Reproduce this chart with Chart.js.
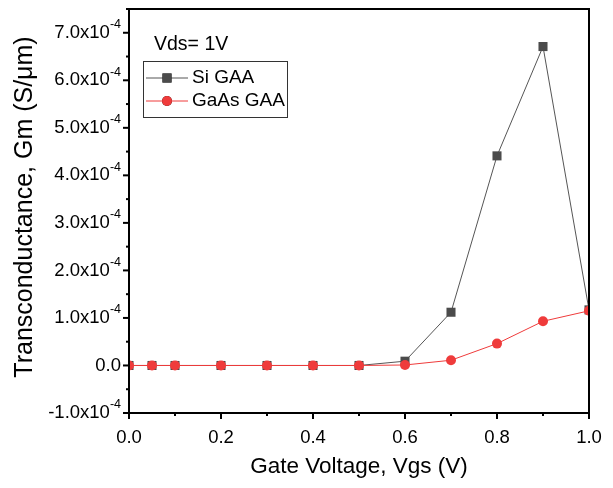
<!DOCTYPE html>
<html>
<head>
<meta charset="utf-8">
<script src="https://cdn.jsdelivr.net/npm/chart.js@4.4.0/dist/chart.umd.min.js"></script>
<style>body{margin:0;background:#fff;}</style>
</head>
<body>
<canvas id="gmChart" width="613" height="488"></canvas>
<script>
// gate voltage sweep (V)
const vgs = [0, 0.05, 0.1, 0.2, 0.3, 0.4, 0.5, 0.6, 0.7, 0.8, 0.9, 1.0];
// transconductance (S/um)
const gmSi = [0, 0, 0, 0, 0, 0, 0, 0.09e-4, 1.12e-4, 4.41e-4, 6.71e-4, 1.17e-4];
const gmGaAs = [0, 0, 0, 0, 0, 0, 0, 0.01e-4, 0.11e-4, 0.46e-4, 0.93e-4, 1.15e-4];
const xTicks = [0, 0.2, 0.4, 0.6, 0.8, 1.0];
const yTicks = [-1, 0, 1, 2, 3, 4, 5, 6, 7]; // x10^-4
const seriesNames = ['Si GAA', 'GaAs GAA'];

const FONT = "'Liberation Sans', Arial, sans-serif";
const siColor = '#4b4b4b';
const gaasColor = '#ef3b3b';

const axesFrame = {
    id: 'axesFrame',
    afterDraw(chart) {
        const ctx = chart.ctx;
        const a = chart.chartArea;
        const xs = chart.scales.x, ys = chart.scales.y;
        ctx.save();
        ctx.strokeStyle = '#000';
        ctx.lineWidth = 2;
        ctx.strokeRect(a.left, a.top, a.right - a.left, a.bottom - a.top);

        // y ticks
        for (let v = -1; v <= 7.5; v += 0.5) {
            const y = ys.getPixelForValue(v * 1e-4);
            const len = Number.isInteger(v) ? 6 : 3;
            ctx.beginPath();
            ctx.moveTo(a.left - len, y);
            ctx.lineTo(a.left, y);
            ctx.stroke();
        }
        // x ticks
        for (let i = 0; i <= 10; i++) {
            const x = xs.getPixelForValue(i / 10);
            const len = i % 2 === 0 ? 6 : 3;
            ctx.beginPath();
            ctx.moveTo(x, a.bottom);
            ctx.lineTo(x, a.bottom + len);
            ctx.stroke();
        }

        ctx.fillStyle = '#000';
        // x tick labels
        ctx.font = '18.5px ' + FONT;
        ctx.textAlign = 'center';
        ctx.textBaseline = 'middle';
        xTicks.forEach(t => {
            ctx.fillText(t.toFixed(1), xs.getPixelForValue(t), a.bottom + 25);
        });

        // y tick labels with superscript exponent
        yTicks.forEach(t => {
            const y = ys.getPixelForValue(t * 1e-4);
            const right = a.left - 8;
            if (t === 0) {
                ctx.font = '18.5px ' + FONT;
                ctx.textAlign = 'right';
                ctx.fillText('0.0', right, y);
                return;
            }
            ctx.font = '12.5px ' + FONT;
            const sup = '-4';
            const supW = ctx.measureText(sup).width;
            ctx.textAlign = 'left';
            ctx.fillText(sup, right - supW, y - 8);
            ctx.font = '18.5px ' + FONT;
            ctx.textAlign = 'right';
            ctx.fillText(t.toFixed(1) + 'x10', right - supW, y);
        });

        // axis titles
        ctx.font = '22.5px ' + FONT;
        ctx.textAlign = 'center';
        ctx.fillText('Gate Voltage, Vgs (V)', (a.left + a.right) / 2, 467);
        ctx.save();
        ctx.translate(25, 207);
        ctx.rotate(-Math.PI / 2);
        ctx.font = '25px ' + FONT;
        ctx.fillText('Transconductance, Gm (S/\u03bcm)', 0, 0);
        ctx.restore();

        // annotation and legend
        ctx.font = '19.5px ' + FONT;
        ctx.textAlign = 'left';
        ctx.fillText('Vds= 1V', 154, 45);

        ctx.lineWidth = 1;
        ctx.strokeStyle = '#333';
        ctx.strokeRect(143.5, 61.5, 144, 56);
        const rows = [78, 101];
        chart.data.datasets.forEach((ds, i) => {
            const ly = rows[i];
            ctx.strokeStyle = ds.borderColor;
            ctx.lineWidth = 1;
            ctx.beginPath();
            ctx.moveTo(146, ly);
            ctx.lineTo(188, ly);
            ctx.stroke();
            Chart.helpers.drawPoint(ctx, {
                pointStyle: ds.pointStyle, radius: ds.pointRadius,
                borderWidth: 0, rotation: 0
            }, 167, ly);
            ctx.fillStyle = ds.pointBackgroundColor;
            ctx.fill();
            ctx.fillStyle = '#000';
            ctx.font = '19px ' + FONT;
            ctx.fillText(ds.label, 192, ly);
        });
        ctx.restore();
    }
};

new Chart(document.getElementById('gmChart').getContext('2d'), {
    type: 'line',
    data: {
        labels: vgs,
        datasets: [{
            label: seriesNames[0],
            data: vgs.map((v, i) => ({ x: v, y: gmSi[i] })),
            borderColor: '#555555',
            borderWidth: 1,
            pointStyle: 'rect',
            pointRadius: 6.4,
            pointBackgroundColor: siColor,
            pointBorderWidth: 0,
            order: 1
        }, {
            label: seriesNames[1],
            data: vgs.map((v, i) => ({ x: v, y: gmGaAs[i] })),
            borderColor: gaasColor,
            borderWidth: 1,
            pointStyle: 'circle',
            pointRadius: 5,
            pointBackgroundColor: gaasColor,
            pointBorderWidth: 0,
            order: 0
        }]
    },
    options: {
        responsive: false,
        animation: false,
        layout: { padding: { left: 129, right: 24, top: 9, bottom: 75 } },
        scales: {
            x: { type: 'linear', min: 0, max: 1, display: false },
            y: { type: 'linear', min: -1e-4, max: 7.5e-4, display: false }
        },
        plugins: {
            legend: { display: false },
            tooltip: { enabled: false }
        }
    },
    plugins: [axesFrame]
});
</script>
</body>
</html>
